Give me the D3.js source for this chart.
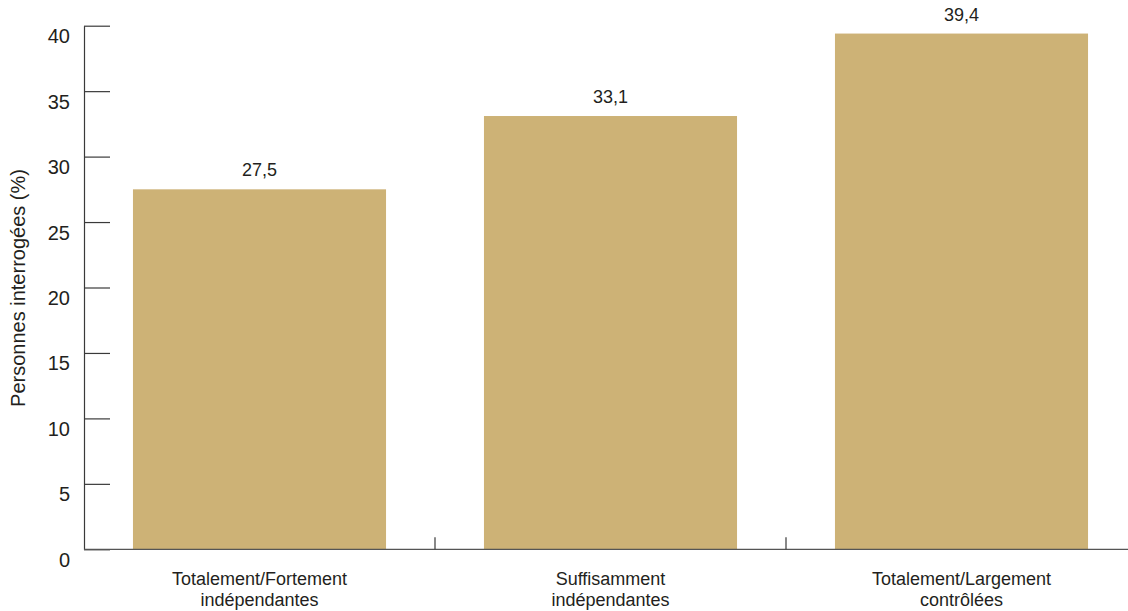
<!DOCTYPE html>
<html>
<head>
<meta charset="utf-8">
<script src="https://cdn.jsdelivr.net/npm/d3@7"></script>
<style>
  html, body { margin: 0; padding: 0; background: #fff; }
  svg { display: block; font-family: "Liberation Sans", Arial, Helvetica, sans-serif; }
</style>
</head>
<body>
<svg id="chart" width="1128" height="611"></svg>
<script>
const categories = ["Totalement/Fortement\nindépendantes", "Suffisamment\nindépendantes", "Totalement/Largement\ncontrôlées"];
const values = [27.5, 33.1, 39.4];
const valueLabels = ["27,5", "33,1", "39,4"];
const yTicks = [0, 5, 10, 15, 20, 25, 30, 35, 40];
const yTitle = "Personnes interrogées (%)";

const svg = d3.select("#chart");
const textColor = "#231f20";
const axisColor = "#3a3a3a";
const barColor = "#cdb276";

const y = d3.scaleLinear().domain([0, 40]).range([549.3, 25.7]);
const x = d3.scaleBand().domain(categories).range([84, 1137]).paddingInner(0.279).paddingOuter(0.1395);

// bars
svg.append("g").selectAll("rect").data(values).join("rect")
  .attr("x", (d, i) => x(categories[i]))
  .attr("y", d => y(d))
  .attr("width", x.bandwidth())
  .attr("height", d => y(0) - y(d))
  .attr("fill", barColor);

// value labels
svg.append("g").selectAll("text").data(values).join("text")
  .attr("x", (d, i) => x(categories[i]) + x.bandwidth() / 2)
  .attr("y", d => y(d) - 13)
  .attr("text-anchor", "middle")
  .attr("font-size", 18)
  .attr("fill", textColor)
  .text((d, i) => valueLabels[i]);

// y axis
const yAxis = svg.append("g").attr("transform", "translate(84,0)")
  .call(d3.axisLeft(y).tickValues(yTicks).tickSizeInner(-26).tickSizeOuter(0).tickFormat(d => d));
yAxis.select(".domain").attr("stroke", axisColor).attr("stroke-width", 1.2);
yAxis.selectAll(".tick line").attr("stroke", axisColor).attr("stroke-width", 1.2);
yAxis.selectAll(".tick text")
  .attr("x", -14).attr("dy", null).attr("y", 17)
  .attr("font-size", 20).attr("fill", textColor)
  .attr("font-family", "Liberation Sans, Arial, sans-serif");

// x axis baseline
const base = y(0);
svg.append("line")
  .attr("x1", 84).attr("x2", 1128).attr("y1", base).attr("y2", base)
  .attr("stroke", "#555").attr("stroke-width", 1.2);

// category separators
const seps = categories.slice(1).map(c => x(c) - x.step() * x.paddingInner() / 2);
svg.append("g").selectAll("line").data(seps).join("line")
  .attr("x1", d => d).attr("x2", d => d)
  .attr("y1", base).attr("y2", base - 12)
  .attr("stroke", axisColor).attr("stroke-width", 1.2);

// category labels
const cat = svg.append("g").selectAll("text").data(categories).join("text")
  .attr("text-anchor", "middle")
  .attr("font-size", 18)
  .attr("fill", textColor);
cat.each(function(c) {
  const lines = c.split("\n");
  const cx = x(c) + x.bandwidth() / 2;
  d3.select(this).selectAll("tspan").data(lines).join("tspan")
    .attr("x", cx)
    .attr("y", (l, i) => 585 + i * 21)
    .text(l => l);
});

// y title
svg.append("text")
  .attr("transform", "translate(25,288) rotate(-90)")
  .attr("text-anchor", "middle")
  .attr("font-size", 20)
  .attr("fill", textColor)
  .text(yTitle);
</script>
</body>
</html>
